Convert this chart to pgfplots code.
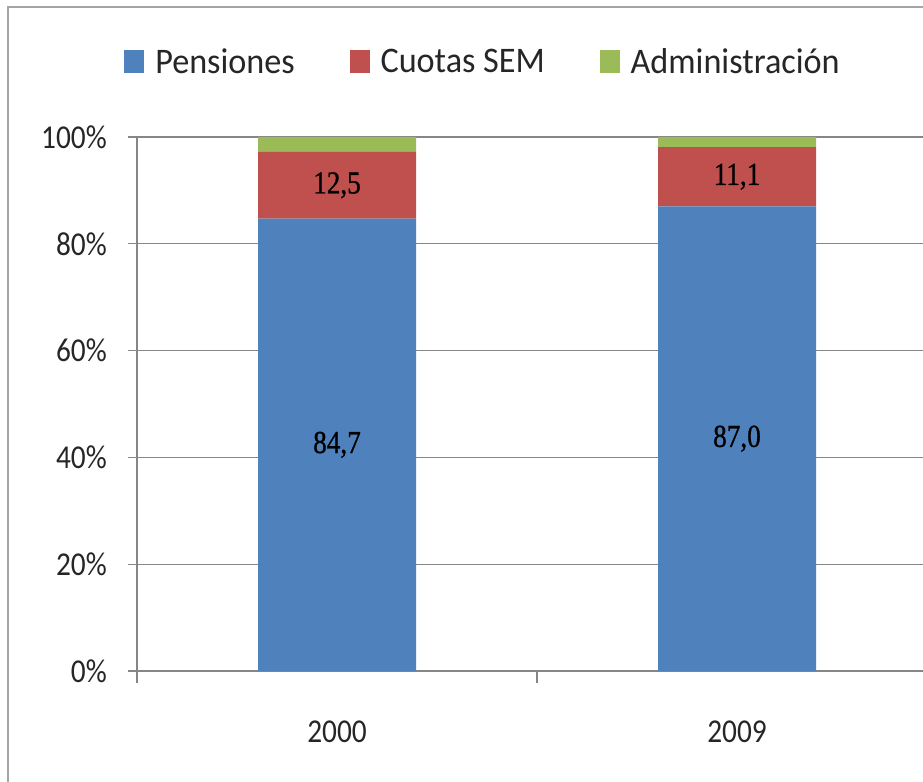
\documentclass[border=0pt]{standalone}
\usepackage{fontspec}
\setmainfont{Carlito}
\newfontfamily\legfont[FakeStretch=0.95]{Carlito}
\newfontfamily\tickfont[FakeStretch=0.88]{Carlito}
\newfontfamily\labfont[FakeStretch=0.85,FakeBold=0.8]{Liberation Serif}
\usepackage{pgfplots}
\usepackage{pgfplotstable}
\pgfplotsset{compat=1.18}

\definecolor{pens}{RGB}{79,129,189}
\definecolor{cuot}{RGB}{192,80,77}
\definecolor{admi}{RGB}{155,187,89}
\definecolor{gridc}{RGB}{134,134,134}
\definecolor{framec}{RGB}{165,165,165}

% participacion en el gasto (%)
\pgfplotstableread{
x pens cuot admi lpens lcuot
0 84.7 12.5 2.8 84,7 12,5
1 87.0 11.1 1.9 87,0 11,1
}\datos

\begin{document}
\begin{tikzpicture}[x=1pt,y=1pt]
\useasboundingbox (0,0) rectangle (692.25,585.75);
\clip (0,0) rectangle (692.25,585.75);
\draw[framec, line width=1pt] (6,-5) -- (6,580.5) -- (700,580.5);
\begin{axis}[
    at={(102.75pt,82.5pt)}, anchor=south west,
    scale only axis, width=600pt, height=400.5pt,
    ybar stacked, bar width=118.5pt,
    xmin=-0.5, xmax=1.5, ymin=0, ymax=100,
    axis x line=bottom, axis y line=left,
    axis line style={gridc, line width=0.9pt, -},
    xtick={0,1}, xticklabels={2000,2009},
    minor xtick={-0.5,0.5,1.5},
    ytick={0,20,...,100},
    yticklabels={0\%,20\%,40\%,60\%,80\%,100\%},
    tick align=outside, major tick length=6.75pt, minor tick length=9pt,
    major x tick style={draw=none},
    minor x tick style={gridc, line width=0.9pt},
    ytick style={gridc, line width=0.9pt},
    ymajorgrids, major grid style={gridc, line width=0.9pt},
    ticklabel style={font=\tickfont\fontsize{25}{30}\selectfont, text=black!85},
    yticklabel style={inner sep=0pt, xshift=-15.75pt},
    xticklabel style={inner sep=0pt, anchor=north, yshift=-30.75pt},
    legend columns=3,
    legend image code/.code={\fill[#1,draw=none] (0pt,-8.6pt) rectangle (15pt,8.6pt);},
    legend style={at={(-0.01625,1.141)}, anchor=west, draw=none, fill=none,
        inner sep=0pt, font=\legfont\fontsize{27}{32}\selectfont, text=black!85,
        nodes={inner sep=0pt},
        /tikz/every odd column/.append style={column sep=8.25pt},
        /tikz/every even column/.append style={column sep=41pt}},
    every node near coord/.append style={font=\labfont\fontsize{24}{28}\selectfont,
        text=black, anchor=center, inner sep=0pt},
]
\addplot[fill=pens, draw=none, nodes near coords, point meta=explicit symbolic]
    table[x=x, y=pens, meta=lpens] {\datos};
\addplot[fill=cuot, draw=none, nodes near coords, point meta=explicit symbolic]
    table[x=x, y=cuot, meta=lcuot] {\datos};
\addplot[fill=admi, draw=none] table[x=x, y=admi] {\datos};
\legend{Pensiones, Cuotas SEM, Administración}
\end{axis}
\end{tikzpicture}
\end{document}
